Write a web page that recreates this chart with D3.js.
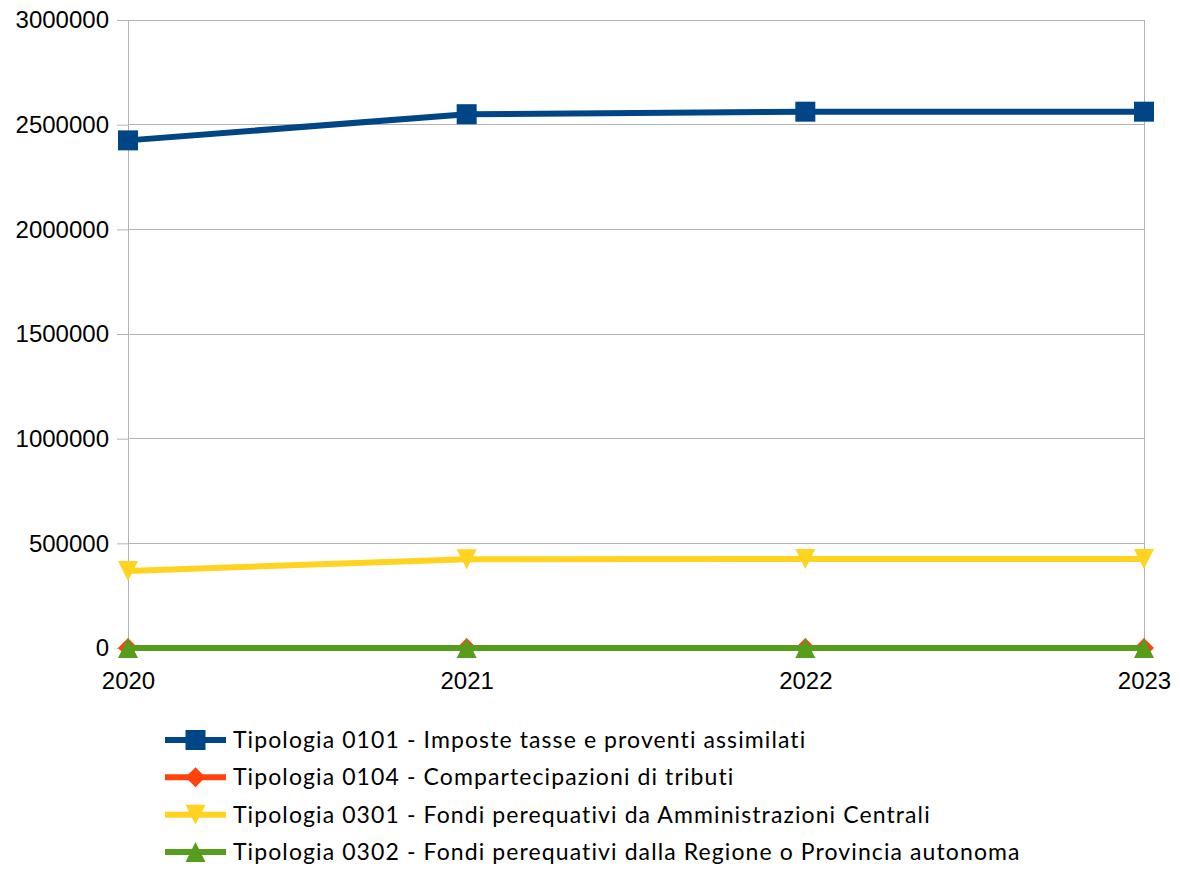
<!DOCTYPE html>
<html>
<head>
<meta charset="utf-8">
<script src="https://cdn.jsdelivr.net/npm/d3@7"></script>
<style>
  html, body { margin: 0; padding: 0; background: #fff; }
  svg { display: block; }
</style>
</head>
<body>
<svg id="chart" width="1180" height="871"></svg>
<script>
// Years on the category axis
const years = ["2020", "2021", "2022", "2023"];

// Series values per year
const tip0101 = [2425000, 2550000, 2562000, 2562000];
const tip0104 = [0, 0, 0, 0];
const tip0301 = [368000, 424000, 425000, 425000];
const tip0302 = [0, 0, 0, 0];

// Series names shown in the legend
const seriesNames = [
  "Tipologia 0101 - Imposte tasse e proventi assimilati",
  "Tipologia 0104 - Compartecipazioni di tributi",
  "Tipologia 0301 - Fondi perequativi da Amministrazioni Centrali",
  "Tipologia 0302 - Fondi perequativi dalla Regione o Provincia autonoma"
];

// Value axis ticks
const yTicks = [0, 500000, 1000000, 1500000, 2000000, 2500000, 3000000];

const series = [
  { name: seriesNames[0], values: tip0101, color: "#004586", marker: "square" },
  { name: seriesNames[1], values: tip0104, color: "#ff420e", marker: "diamond" },
  { name: seriesNames[2], values: tip0301, color: "#ffd320", marker: "down" },
  { name: seriesNames[3], values: tip0302, color: "#579d1c", marker: "up" }
];

const svg = d3.select("#chart");
const plot = { left: 128, right: 1144, top: 20, bottom: 648 };

const x = d3.scalePoint().domain(years).range([plot.left, plot.right]);
const y = d3.scaleLinear().domain([0, 3000000]).range([plot.bottom, plot.top]);

// Horizontal grid lines
svg.append("g").selectAll("line").data(yTicks).join("line")
  .attr("x1", plot.left).attr("x2", plot.right)
  .attr("y1", d => y(d)).attr("y2", d => y(d))
  .attr("stroke", "#b3b3b3").attr("stroke-width", 1)
  .attr("shape-rendering", "crispEdges");

// Right border of the plot area
svg.append("line")
  .attr("x1", plot.right).attr("x2", plot.right)
  .attr("y1", plot.top).attr("y2", plot.bottom)
  .attr("stroke", "#b3b3b3").attr("shape-rendering", "crispEdges");

// Value axis
const yAxis = svg.append("g")
  .attr("transform", `translate(${plot.left},0)`)
  .call(d3.axisLeft(y).tickValues(yTicks).tickFormat(d3.format("d")).tickSizeInner(11).tickSizeOuter(0).tickPadding(8));
yAxis.select(".domain").attr("stroke", "#b3b3b3");
yAxis.selectAll(".tick line").attr("stroke", "#b3b3b3");
yAxis.selectAll("text")
  .attr("font-family", "'Liberation Sans', Arial, sans-serif")
  .attr("font-size", 24).attr("fill", "#000");

// Category axis
const xAxis = svg.append("g")
  .attr("transform", `translate(0,${plot.bottom})`)
  .call(d3.axisBottom(x).tickSizeInner(6).tickSizeOuter(0).tickPadding(18));
xAxis.select(".domain").attr("stroke", "#b3b3b3");
xAxis.selectAll(".tick line").attr("stroke", "#b3b3b3");
xAxis.selectAll("text")
  .attr("font-family", "'Liberation Sans', Arial, sans-serif")
  .attr("font-size", 24).attr("fill", "#000");

// Marker shapes
function markerPath(type) {
  const s = 10;
  switch (type) {
    case "square": return `M${-s},${-s}H${s}V${s}H${-s}Z`;
    case "diamond": return `M0,${-s}L${s},0L0,${s}L${-s},0Z`;
    case "down": return `M${-s},${-s}H${s}L0,${s}Z`;
    case "up": return `M0,${-s}L${s},${s}H${-s}Z`;
  }
}

const line = d3.line().x((d, i) => x(years[i])).y(d => y(d));

series.forEach(s => {
  const g = svg.append("g");
  g.append("path")
    .datum(s.values)
    .attr("d", line)
    .attr("fill", "none")
    .attr("stroke", s.color)
    .attr("stroke-width", 6)
    .attr("stroke-linejoin", "round");
  g.selectAll("path.m").data(s.values).join("path")
    .attr("class", "m")
    .attr("transform", (d, i) => `translate(${x(years[i])},${y(d)})`)
    .attr("d", markerPath(s.marker))
    .attr("fill", s.color);
});

// Legend
const legend = svg.append("g");
const rowY = d3.scalePoint().domain(seriesNames).range([740, 852]);
series.forEach(s => {
  const cy = rowY(s.name);
  legend.append("line")
    .attr("x1", 165).attr("x2", 226)
    .attr("y1", cy).attr("y2", cy)
    .attr("stroke", s.color).attr("stroke-width", 6);
  legend.append("path")
    .attr("transform", `translate(195.5,${cy})`)
    .attr("d", markerPath(s.marker))
    .attr("fill", s.color);
  legend.append("text")
    .attr("x", 233).attr("y", cy)
    .attr("dy", "0.35em")
    .attr("font-family", "Lato, 'Open Sans', sans-serif")
    .attr("font-size", 23)
    .attr("letter-spacing", 1.1)
    .attr("fill", "#000")
    .text(s.name);
});
</script>
</body>
</html>
